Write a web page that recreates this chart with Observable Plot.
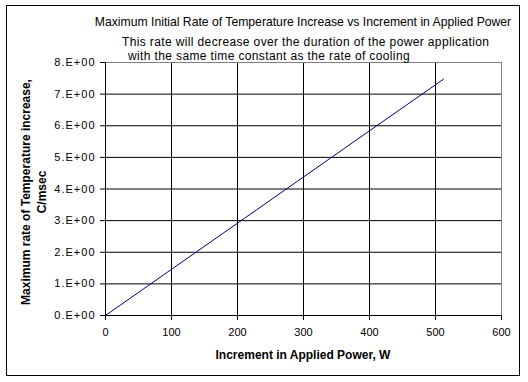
<!DOCTYPE html>
<html>
<head>
<meta charset="utf-8">
<script src="https://cdn.jsdelivr.net/npm/d3@7"></script>
<script src="https://cdn.jsdelivr.net/npm/@observablehq/plot@0.6"></script>
<style>
  html, body { margin: 0; padding: 0; background: white; }
  svg text { font-family: "Liberation Sans", Arial, sans-serif; }
</style>
</head>
<body>
<div id="chart"></div>
<script>
const powerW = [0, 100, 200, 300, 400, 512];
const rateCmsec = [0, 1.46, 2.92, 4.38, 5.84, 7.47];
const xTicks = [0, 100, 200, 300, 400, 500, 600];
const yTicks = [0, 1, 2, 3, 4, 5, 6, 7, 8];
const titleText = "Maximum Initial Rate of Temperature Increase vs Increment in Applied Power";
const subtitleLines = ["This rate will decrease over the duration of the power application",
                       "with the same time constant as the rate of cooling"];
const xLabel = "Increment in Applied Power, W";
const yLabelLines = ["Maximum rate of Temperature increase,", "C/msec"];

const data = powerW.map((p, i) => ({p, r: rateCmsec[i]}));

const W = 528, H = 382;
const mL = 105, mR = 27, mT = 62, mB = 67;

const svg = Plot.plot({
  width: W, height: H,
  marginLeft: mL, marginRight: mR, marginTop: mT, marginBottom: mB,
  style: {fontFamily: "Liberation Sans, Arial, sans-serif", fontSize: "11px", background: "white", color: "black", overflow: "visible"},
  x: {domain: [0, 600], label: null},
  y: {domain: [0, 8], label: null},
  marks: [
    Plot.gridY(yTicks.slice(1, -1), {stroke: "black", strokeOpacity: 1}),
    Plot.gridX(xTicks.slice(1, -1), {stroke: "black", strokeOpacity: 1}),
    Plot.frame({stroke: "#808080"}),
    Plot.ruleY([0], {stroke: "black"}),
    Plot.ruleX([0], {stroke: "black"}),
    Plot.axisX({ticks: xTicks, tickSize: 5, tickPadding: 8, tickFormat: d => String(d), label: null, fill: "black"}),
    Plot.axisY({ticks: yTicks, tickSize: 5, tickPadding: 5, tickFormat: d => `${d}.E+00`, label: null, fill: "black"}),
    Plot.line(data, {x: "p", y: "r", stroke: "#000080", strokeWidth: 1})
  ]
});

const s = d3.select(svg);
s.insert("rect", ":first-child")
  .attr("x", 6.5).attr("y", 5.5).attr("width", 513).attr("height", 370)
  .attr("fill", "white").attr("stroke", "black").attr("stroke-width", 1);

// widen y tick labels to match the reference's spacing
s.selectAll("g[aria-label='y-axis tick label'] text").attr("letter-spacing", "1px");

s.append("text").attr("x", 303).attr("y", 26).attr("text-anchor", "middle")
  .attr("font-size", 12.2).attr("fill", "black").text(titleText);
s.append("text").attr("x", 122).attr("y", 46).attr("text-anchor", "start")
  .attr("font-size", 12).attr("letter-spacing", "0.37px").attr("fill", "black").text(subtitleLines[0]);
s.append("text").attr("x", 128).attr("y", 60).attr("text-anchor", "start")
  .attr("font-size", 12).attr("letter-spacing", "0.37px").attr("fill", "black").text(subtitleLines[1]);

s.append("text").attr("x", 303).attr("y", 359).attr("text-anchor", "middle")
  .attr("font-size", 12).attr("font-weight", "bold").attr("fill", "black").text(xLabel);

const yl = s.append("text").attr("transform", "translate(30,192) rotate(-90)")
  .attr("text-anchor", "middle").attr("font-size", 12).attr("font-weight", "bold").attr("fill", "black");
yl.append("tspan").attr("x", 0).attr("y", 0).text(yLabelLines[0]);
yl.append("tspan").attr("x", 0).attr("y", 16).text(yLabelLines[1]);

document.getElementById("chart").appendChild(svg);
</script>
</body>
</html>
